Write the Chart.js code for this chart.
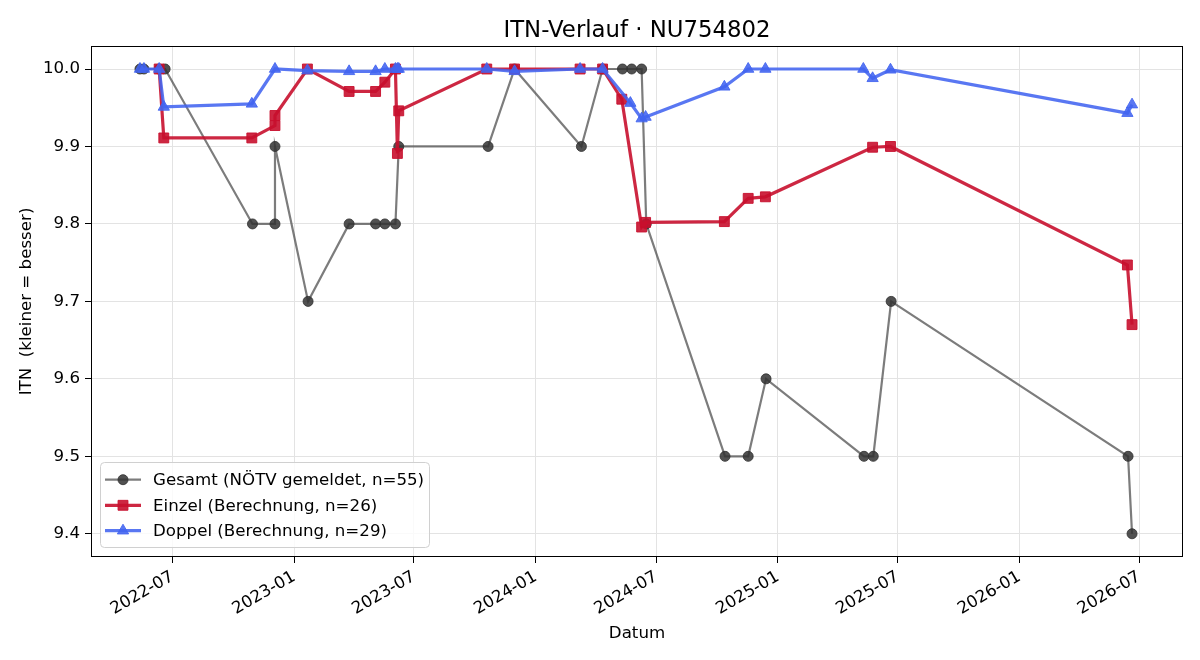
<!DOCTYPE html>
<html><head><meta charset="utf-8">
<script src="https://cdn.jsdelivr.net/npm/chart.js@4.4.0/dist/chart.umd.min.js"></script>
<style>html,body{margin:0;padding:0;background:#fff}#wrap{width:1200px;height:660px}</style>
</head><body><div id="wrap"><canvas id="c" width="1200" height="660"></canvas></div>
<script>
const chartTitle = 'ITN-Verlauf · NU754802';
const yAxisTitle = 'ITN  (kleiner = besser)';
const xAxisTitle = 'Datum';
const seriesLabels = ['Gesamt (NÖTV gemeldet, n=55)', 'Einzel (Berechnung, n=26)', 'Doppel (Berechnung, n=29)'];

const gesamtDates = ['2022-05-13','2022-05-19','2022-06-11','2022-06-20','2022-10-30','2022-12-03','2022-12-03','2023-01-22','2023-03-25','2023-05-04','2023-05-18','2023-06-03','2023-06-08','2023-10-21','2023-11-30','2024-03-10','2024-04-11','2024-05-11','2024-05-25','2024-06-09','2024-06-16','2024-10-13','2024-11-17','2024-12-14','2025-05-11','2025-05-25','2025-06-21','2026-06-14','2026-06-20'];
const gesamtValues = [10.0,10.0,10.0,10.0,9.8,9.8,9.9,9.7,9.8,9.8,9.8,9.8,9.9,9.9,10.0,9.9,10.0,10.0,10.0,10.0,9.8,9.5,9.5,9.6,9.5,9.5,9.7,9.5,9.4];

const einzelDates = ['2022-06-11','2022-06-18','2022-10-29','2022-12-03','2022-12-03','2023-01-21','2023-03-25','2023-05-04','2023-05-18','2023-06-03','2023-06-06','2023-06-08','2023-10-19','2023-11-30','2024-03-08','2024-04-11','2024-05-10','2024-06-09','2024-06-15','2024-10-12','2024-11-17','2024-12-13','2025-05-24','2025-06-20','2026-06-13','2026-06-20'];
const einzelValues = [10.0,9.911,9.911,9.927,9.940,10.0,9.971,9.971,9.983,10.0,9.891,9.946,10.0,10.0,10.0,10.0,9.961,9.796,9.802,9.803,9.833,9.835,9.899,9.900,9.747,9.670];

const doppelDates = ['2022-05-13','2022-05-19','2022-06-11','2022-06-18','2022-10-29','2022-12-03','2023-01-21','2023-03-25','2023-05-04','2023-05-18','2023-06-03','2023-06-06','2023-06-08','2023-10-19','2023-11-30','2024-03-08','2024-04-11','2024-05-23','2024-06-09','2024-06-15','2024-10-12','2024-11-17','2024-12-13','2025-05-10','2025-05-24','2025-06-20','2026-06-13','2026-06-20'];
const doppelValues = [10.0,10.0,10.0,9.951,9.955,10.0,9.998,9.997,9.997,10.0,10.0,10.0,10.0,10.0,9.997,10.0,10.0,9.956,9.936,9.938,9.977,10.0,10.0,10.0,9.988,9.999,9.943,9.954];

const xTickDates = ['2022-07-01','2023-01-01','2023-07-01','2024-01-01','2024-07-01','2025-01-01','2025-07-01','2026-01-01','2026-07-01'];
const xTickLabels = ['2022-07','2023-01','2023-07','2024-01','2024-07','2025-01','2025-07','2026-01','2026-07'];
const yTickValues = [9.4,9.5,9.6,9.7,9.8,9.9,10.0];
const xRange = ['2022-02-28','2026-09-05'];
const yRange = [9.37, 10.0297];

function ms(s){const p=s.split('-').map(Number);return Date.UTC(p[0],p[1]-1,p[2]);}
function pts(dates, vals){return dates.map((d,i)=>({x:ms(d), y:vals[i]}));}

const FONT = 'DejaVu Sans';
const FS = 16.67;

const colGrayLine = 'rgba(68,68,68,0.7)';
const colGrayPt = 'rgba(51,51,51,0.85)';
const colRed = 'rgba(200,16,46,0.9)';
const colBlue = 'rgba(66,100,240,0.88)';

const datasets = [
  {label: seriesLabels[0], data: pts(gesamtDates, gesamtValues), borderColor: colGrayLine, backgroundColor: colGrayPt,
   pointBackgroundColor: colGrayPt, pointBorderColor: colGrayPt, borderWidth: 2.2, pointStyle: 'circle', pointRadius: 5, pointBorderWidth: 1, order: 2},
  {label: seriesLabels[1], data: pts(einzelDates, einzelValues), borderColor: colRed, backgroundColor: colRed,
   pointBackgroundColor: colRed, pointBorderColor: colRed, borderWidth: 3.2, pointStyle: 'rect', pointRadius: 7, pointBorderWidth: 1, order: 1},
  {label: seriesLabels[2], data: pts(doppelDates, doppelValues), borderColor: colBlue, backgroundColor: colBlue,
   pointBackgroundColor: colBlue, pointBorderColor: colBlue, borderWidth: 3.2, pointStyle: 'triangle', pointRadius: 6.5, pointBorderWidth: 1, order: 0}
];

const framePlugin = {
  id: 'frame',
  afterDatasetsDraw(chart){
    const {ctx, chartArea: a} = chart;
    ctx.save();
    ctx.strokeStyle = '#000'; ctx.lineWidth = 1;
    ctx.strokeRect(Math.round(a.left)+0.5, Math.round(a.top)+0.5, Math.round(a.right-a.left)-1, Math.round(a.bottom-a.top)-1);
    ctx.restore();
  },
  afterDraw(chart){
    const ctx = chart.ctx;
    const a = chart.chartArea;
    ctx.save();
    // title centred over the plot area
    ctx.fillStyle = '#000'; ctx.font = '22.8px "' + FONT + '"';
    ctx.textAlign = 'center'; ctx.textBaseline = 'alphabetic';
    ctx.fillText(chartTitle, (a.left + a.right) / 2, 36.7);
    // legend box
    const bx=100.5, by=462.5, bw=329, bh=85, r=4;
    ctx.beginPath();
    ctx.moveTo(bx+r,by); ctx.lineTo(bx+bw-r,by); ctx.quadraticCurveTo(bx+bw,by,bx+bw,by+r);
    ctx.lineTo(bx+bw,by+bh-r); ctx.quadraticCurveTo(bx+bw,by+bh,bx+bw-r,by+bh);
    ctx.lineTo(bx+r,by+bh); ctx.quadraticCurveTo(bx,by+bh,bx,by+bh-r);
    ctx.lineTo(bx,by+r); ctx.quadraticCurveTo(bx,by,bx+r,by); ctx.closePath();
    ctx.fillStyle='rgba(255,255,255,0.8)'; ctx.fill();
    ctx.strokeStyle='#d0d0d0'; ctx.lineWidth=1; ctx.stroke();
    const rows=[479.7,505.3,530.7];
    chart.data.datasets.forEach((ds,i)=>{
      const y=rows[i];
      ctx.strokeStyle=ds.borderColor; ctx.lineWidth=ds.borderWidth;
      ctx.beginPath(); ctx.moveTo(105,y); ctx.lineTo(141,y); ctx.stroke();
      ctx.fillStyle=ds.pointBackgroundColor; ctx.strokeStyle=ds.pointBorderColor; ctx.lineWidth=ds.pointBorderWidth;
      Chart.helpers.drawPoint(ctx,{pointStyle:ds.pointStyle,radius:ds.pointRadius,borderWidth:ds.pointBorderWidth,rotation:0},123,y);
      ctx.fillStyle='#000'; ctx.font=FS+'px "'+FONT+'"'; ctx.textBaseline='middle'; ctx.textAlign='left';
      ctx.fillText(ds.label,153,y+1);
    });
    ctx.restore();
  }
};

new Chart(document.getElementById('c'), {
  type: 'line',
  data: {datasets},
  plugins: [framePlugin],
  options: {
    responsive: false, animation: false, devicePixelRatio: 1,
    layout: {padding: {left: 0, right: 17, top: 46, bottom: 0}},
    plugins: {
      legend: {display: false},
      tooltip: {enabled: false},
      title: {display: false}
    },
    elements: {line: {tension: 0}},
    scales: {
      x: {
        type: 'linear', min: ms(xRange[0]), max: ms(xRange[1]),
        afterBuildTicks(s){ s.ticks = xTickDates.map(d=>({value: ms(d)})); },
        afterFit(s){ s.height = 103; },
        ticks: {autoSkip: false, maxRotation: 30, minRotation: 30, color: '#000', padding: 4,
          font: {family: FONT, size: FS}, callback: (v,i)=>xTickLabels[i]},
        grid: {color: '#e3e3e3', lineWidth: 1, drawTicks: true, tickLength: 6, tickColor: '#000', tickWidth: 1},
        border: {display: false},
        title: {display: true, text: xAxisTitle, color: '#000', font: {family: FONT, size: FS}, padding: {top: 0, bottom: 16}}
      },
      y: {
        type: 'linear', min: yRange[0], max: yRange[1],
        afterBuildTicks(s){ s.ticks = yTickValues.map(v=>({value: v})); },
        afterFit(s){ s.width = 91; },
        ticks: {color: '#000', padding: 5, font: {family: FONT, size: FS}, callback: v=>Number(v).toFixed(1)},
        grid: {color: '#e3e3e3', lineWidth: 1, drawTicks: true, tickLength: 6, tickColor: '#000', tickWidth: 1},
        border: {display: false},
        title: {display: true, text: yAxisTitle, color: '#000', font: {family: FONT, size: FS}, padding: {top: 17, bottom: 0}}
      }
    }
  }
});
</script></body></html>
